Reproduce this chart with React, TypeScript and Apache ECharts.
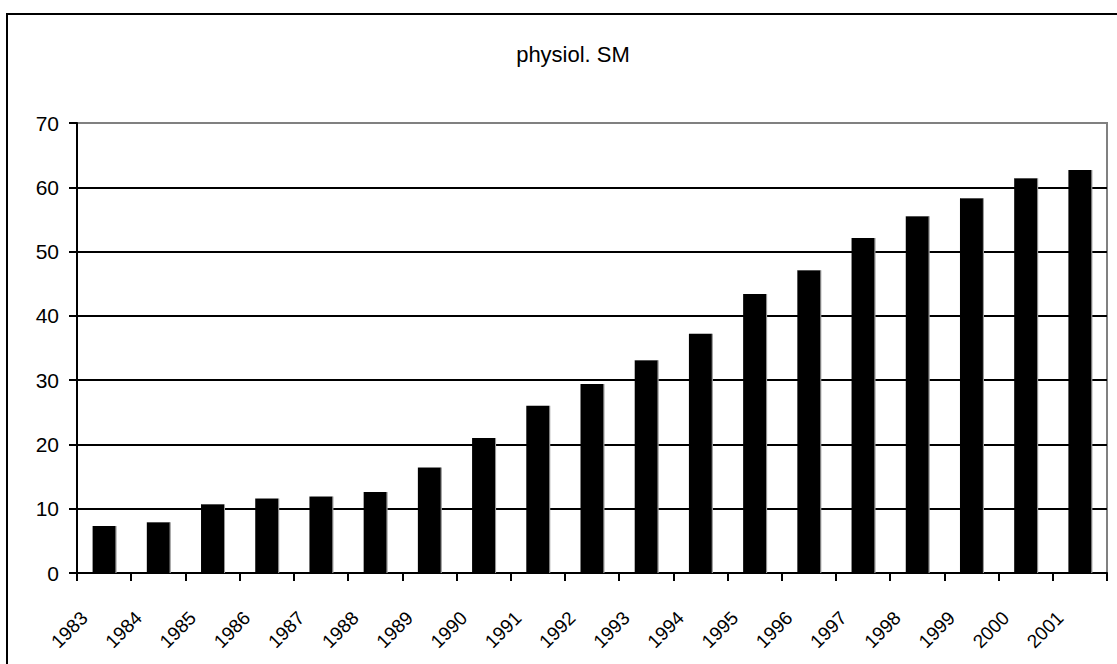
import React, { useEffect, useRef } from "react";
import * as echarts from "echarts";

const years = ["1983","1984","1985","1986","1987","1988","1989","1990","1991","1992","1993","1994","1995","1996","1997","1998","1999","2000","2001"];
const values = [7.3, 7.9, 10.7, 11.6, 11.9, 12.6, 16.4, 21.0, 26.0, 29.4, 33.1, 37.2, 43.4, 47.1, 52.1, 55.5, 58.3, 61.4, 62.7];
const titleText = "physiol. SM";

const FONT = "'Liberation Sans', Arial, sans-serif";

export default function App() {
  const ref = useRef<HTMLDivElement>(null);
  useEffect(() => {
    if (!ref.current) return;
    const chart = echarts.init(ref.current, null, { renderer: "svg" });
    chart.setOption({
      animation: false,
      backgroundColor: "#fff",
      title: {
        text: titleText,
        left: 568,
        top: 38,
        textAlign: "center",
        textStyle: { fontFamily: FONT, fontSize: 22, fontWeight: "normal", color: "#000" },
      },
      graphic: [
        {
          type: "rect",
          shape: { x: 7, y: 14, width: 1120, height: 670 },
          style: { fill: "none", stroke: "#000", lineWidth: 2 },
          z: 100,
        },
      ],
      grid: {
        left: 77,
        top: 123,
        right: 10,
        bottom: 91,
        show: true,
        borderColor: "#808080",
        borderWidth: 2,
        containLabel: false,
      },
      xAxis: {
        type: "category",
        data: years,
        boundaryGap: true,
        axisLine: { lineStyle: { color: "#000", width: 2 } },
        axisTick: { show: true, length: 8, lineStyle: { color: "#000", width: 2 } },
        axisLabel: {
          rotate: 45,
          interval: 0,
          margin: 22,
          padding: [0, 28, 0, 0],
          fontFamily: FONT,
          fontSize: 19,
          color: "#000",
        },
      },
      yAxis: {
        type: "value",
        min: 0,
        max: 70,
        interval: 10,
        axisLine: { show: true, lineStyle: { color: "#000", width: 2 } },
        axisTick: { show: true, length: 8, lineStyle: { color: "#000", width: 2 } },
        axisLabel: { margin: 18, fontFamily: FONT, fontSize: 21, color: "#000" },
        splitLine: {
          show: true,
          lineStyle: {
            color: ["#000", "#000", "#000", "#000", "#000", "#000", "#000", "#808080"],
            width: 2,
          },
        },
      },
      series: [
        {
          type: "bar",
          data: values,
          barWidth: 23,
          itemStyle: {
            color: "#000",
            shadowColor: "#999",
            shadowOffsetX: 1,
            shadowOffsetY: 0,
            shadowBlur: 0,
          },
        },
      ],
    });
    return () => chart.dispose();
  }, []);
  return (
    <div
      ref={ref}
      style={{ position: "fixed", left: 0, top: 0, width: 1117, height: 664 }}
    />
  );
}
